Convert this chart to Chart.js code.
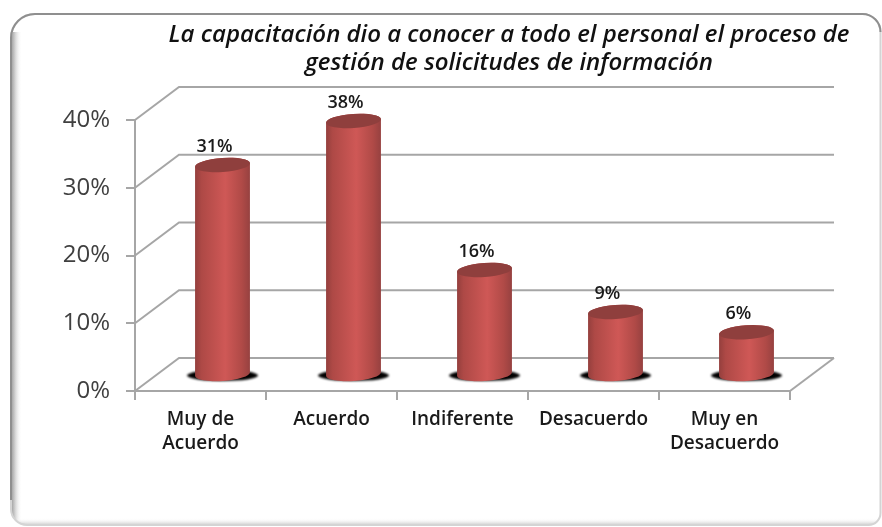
<!DOCTYPE html>
<html><head><meta charset="utf-8">
<style>html,body{margin:0;padding:0;background:#fff}#w{width:882px;height:527px;position:relative}</style>
<script src="https://cdn.jsdelivr.net/npm/chart.js@4"></script>
</head><body><div id="w"><canvas id="c" width="882" height="527"></canvas></div>
<script>
const categories = [["Muy de","Acuerdo"],"Acuerdo","Indiferente","Desacuerdo",["Muy en","Desacuerdo"]];
const seriesValues = [31, 37.5, 15.5, 9.3, 6.3];
const titleLines = ["La capacitación dio a conocer a todo el personal el proceso de","gestión de solicitudes de información"];
const depthX = 44, depthY = 33, lineGray = '#a6a6a6', FONT = '"Open Sans"';
const liftLabel=14;

function roundedFrame(ctx){
  ctx.beginPath();ctx.roundRect(11,14,869.5,511,[24,18,12,16]);
}
const framePlugin = {id:'frame',beforeDraw(chart){
  const ctx=chart.ctx;ctx.save();
  ctx.fillStyle='#fff';ctx.fillRect(0,0,882,527);
  ctx.save();roundedFrame(ctx);ctx.clip();
  const g=ctx.createLinearGradient(11,0,22,0);g.addColorStop(0,'#9a9a9a');g.addColorStop(.4,'#d6d6d6');g.addColorStop(1,'rgba(255,255,255,0)');
  ctx.fillStyle=g;ctx.fillRect(11,32,11,494);
  const b=ctx.createLinearGradient(0,518,0,526);b.addColorStop(0,'rgba(255,255,255,0)');b.addColorStop(1,'#bbbbbb');
  ctx.fillStyle=b;ctx.fillRect(11,518,870,8);
  ctx.restore();
  roundedFrame(ctx);ctx.strokeStyle='#d4d4d4';ctx.lineWidth=2;ctx.stroke();
  ctx.beginPath();ctx.moveTo(11,500);ctx.lineTo(11,38);ctx.arcTo(11,14,35,14,24);ctx.lineTo(862,14);ctx.arcTo(880.5,14,880.5,32,18);
  ctx.strokeStyle='#8f8f8f';ctx.stroke();
  ctx.restore();
}};
const wallPlugin = {id:'walls',beforeDatasetsDraw(chart){
  const ctx=chart.ctx,y=chart.scales.y,x=chart.scales.x,L=x.left,R=x.right;
  ctx.save();ctx.strokeStyle=lineGray;ctx.lineWidth=2;
  y.ticks.forEach(t=>{
    const p=y.getPixelForValue(t.value);
    ctx.beginPath();ctx.moveTo(L,p);ctx.lineTo(L+depthX,p-depthY);ctx.lineTo(R+depthX,p-depthY);ctx.stroke();
  });
  const p0=y.getPixelForValue(0);
  ctx.beginPath();ctx.moveTo(R,p0);ctx.lineTo(R+depthX,p0-depthY);ctx.stroke();
  ctx.restore();
},
beforeDatasetDraw(chart,args){
  const ctx=chart.ctx,meta=args.meta,liftX=depthX/2,liftY=16,rot=-4*Math.PI/180,ry=7;
  meta.data.forEach((el,i)=>{
    const cx=el.x+liftX,rx=el.width/2,base=el.base-liftY,top=el.y-liftY;
    ctx.save();
    ctx.filter='blur(1.2px)';ctx.fillStyle='#000';
    ctx.beginPath();ctx.ellipse(cx,base+1.5,rx+8,5.5,0,0,Math.PI*2);ctx.fill();
    ctx.filter='none';
    const g=ctx.createLinearGradient(cx-rx,0,cx+rx,0);
    g.addColorStop(0,'#943f3d');g.addColorStop(.12,'#ae4946');g.addColorStop(.55,'#cf5856');g.addColorStop(.85,'#b04a47');g.addColorStop(1,'#964140');
    ctx.fillStyle=g;
    ctx.beginPath();
    ctx.ellipse(cx,base,rx,ry,rot,Math.PI,0,true);
    ctx.ellipse(cx,top,rx,ry,rot,0,Math.PI,true);
    ctx.closePath();ctx.fill();
    ctx.fillStyle='#8f3f3d';
    ctx.beginPath();ctx.ellipse(cx,top,rx,ry,rot,0,Math.PI*2);ctx.fill();
    ctx.restore();
  });
  return false;
},
afterDatasetsDraw(chart){
  const ctx=chart.ctx,meta=chart.getDatasetMeta(0);
  ctx.save();ctx.fillStyle='#1a1a1a';ctx.font='600 18px '+FONT;ctx.textAlign='center';ctx.textBaseline='middle';
  meta.data.forEach((el,i)=>{
    ctx.fillText(Math.round(seriesValues[i])+'%',el.x+liftLabel,el.y-16-18);
  });
  ctx.restore();
},
afterLayout(chart){
  const t=chart.titleBlock;
  if(t){t.left=168;t.right=850;t.width=682;}
}};
new Chart(document.getElementById('c'),{
  type:'bar',
  data:{labels:categories,datasets:[{label:'Porcentaje',data:seriesValues,backgroundColor:'#c0504d',categoryPercentage:1,barPercentage:55/131}]},
  plugins:[framePlugin,wallPlugin],
  options:{
    responsive:false,animation:false,
    layout:{padding:{left:0,right:92,top:0,bottom:0}},
    plugins:{
      legend:{display:false},tooltip:{enabled:false},
      title:{display:true,text:titleLines,color:'#111',align:'center',
        font:{family:FONT,size:24,style:'italic',weight:'600',lineHeight:1.167},
        padding:{top:21,bottom:43}}
    },
    scales:{
      x:{afterFit(s){s.height=136;},
        grid:{drawOnChartArea:false,color:lineGray,lineWidth:2,tickLength:9,offset:true},
        border:{color:lineGray,width:2},
        ticks:{color:'#1a1a1a',font:{family:FONT,size:19,weight:'600',lineHeight:1.3},padding:7,maxRotation:0,autoSkip:false}},
      y:{min:0,max:40,afterFit(s){s.width=135;},
        grid:{drawOnChartArea:false,color:lineGray,lineWidth:2,tickLength:9},
        border:{color:lineGray,width:2},
        ticks:{stepSize:10,color:'#404040',font:{family:FONT,size:24},padding:16,callback:v=>v+'%'}}
    }
  }
});
</script></body></html>
